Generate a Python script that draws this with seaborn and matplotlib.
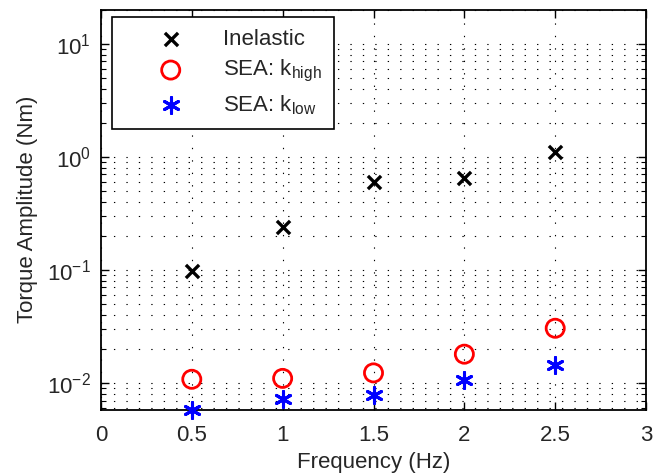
import numpy as np
import pandas as pd
import matplotlib
matplotlib.use("Agg")
import matplotlib.pyplot as plt
import seaborn as sns
from matplotlib.ticker import LogLocator, NullFormatter, FixedLocator

# ---- data ----
freq = [0.5, 1.0, 1.5, 2.0, 2.5]
inelastic = [0.097, 0.24, 0.60, 0.65, 1.10]
sea_khigh = [0.0108, 0.0110, 0.0123, 0.0180, 0.0305]
sea_klow = [0.0058, 0.0073, 0.0079, 0.0106, 0.0145]
labels = ["Inelastic", r"SEA: k$_{\mathregular{high}}$", r"SEA: k$_{\mathregular{low}}$"]
x_ticks = [0, 0.5, 1, 1.5, 2, 2.5, 3]
x_tick_labels = ["0", "0.5", "1", "1.5", "2", "2.5", "3"]

sns.set_theme(style="white")
plt.rcParams["font.family"] = ["Liberation Sans", "DejaVu Sans"]
plt.rcParams["mathtext.fontset"] = "custom"
plt.rcParams["mathtext.rm"] = "Liberation Sans"
plt.rcParams["mathtext.it"] = "Liberation Sans"
plt.rcParams["mathtext.default"] = "regular"

fig = plt.figure(figsize=(6.64, 4.76), dpi=100)
ax = fig.add_axes([0.152, 0.139, 0.821, 0.841])

df = pd.DataFrame({"freq": freq, "inelastic": inelastic,
                   "khigh": sea_khigh, "klow": sea_klow})

sns.scatterplot(data=df, x="freq", y="inelastic", ax=ax, marker="x", s=90,
                color="black", linewidth=2.4, label=labels[0], clip_on=False, zorder=5)
sns.scatterplot(data=df, x="freq", y="khigh", ax=ax, marker="o", s=170,
                facecolor="none", edgecolor="red", linewidth=2.0, label=labels[1],
                clip_on=False, zorder=5)
sns.scatterplot(data=df, x="freq", y="klow", ax=ax, marker=(6, 2, 0), s=130,
                color="blue", edgecolor="blue", linewidth=2.2, label=labels[2],
                clip_on=False, zorder=5)

ax.set_yscale("log")
ax.set_xlim(0, 3)
ax.set_ylim(0.0058, 20)
ax.xaxis.set_major_locator(FixedLocator(x_ticks))
ax.set_xticklabels(x_tick_labels)
ax.yaxis.set_major_locator(LogLocator(base=10, numticks=10))
ax.yaxis.set_minor_locator(LogLocator(base=10, subs=np.arange(2, 10), numticks=20))
ax.yaxis.set_minor_formatter(NullFormatter())

ax.set_xlabel("Frequency (Hz)", fontsize=16, labelpad=4)
ax.set_ylabel("Torque Amplitude (Nm)", fontsize=16, labelpad=7)

ax.tick_params(axis="both", which="major", direction="in", length=6, width=1,
               labelsize=16, top=True, right=True, bottom=True, left=True, pad=11,
               color="black")
ax.tick_params(axis="y", which="major", pad=7)
ax.tick_params(axis="y", which="minor", direction="in", length=3.5, width=0.8,
               left=True, right=True, color="black")
ax.tick_params(axis="x", which="minor", bottom=False, top=False)

dot = (0, (1.2, 10))
ax.grid(True, axis="x", which="major", color="black", linestyle=dot, linewidth=0.8)
ax.grid(True, axis="y", which="both", color="black", linestyle=dot, linewidth=0.8)

for s in ax.spines.values():
    s.set_visible(True)
    s.set_color("black")
    s.set_linewidth(1.3)

leg = ax.legend(loc="upper left", bbox_to_anchor=(0.02, 0.982), fontsize=16,
                frameon=True, fancybox=False, framealpha=1, edgecolor="black",
                borderpad=0.55, handletextpad=0.25, labelspacing=0.38,
                borderaxespad=0, handlelength=4.2, markerscale=1.0)
leg.get_frame().set_linewidth(1.2)

fig.savefig("out.png", dpi=100)
